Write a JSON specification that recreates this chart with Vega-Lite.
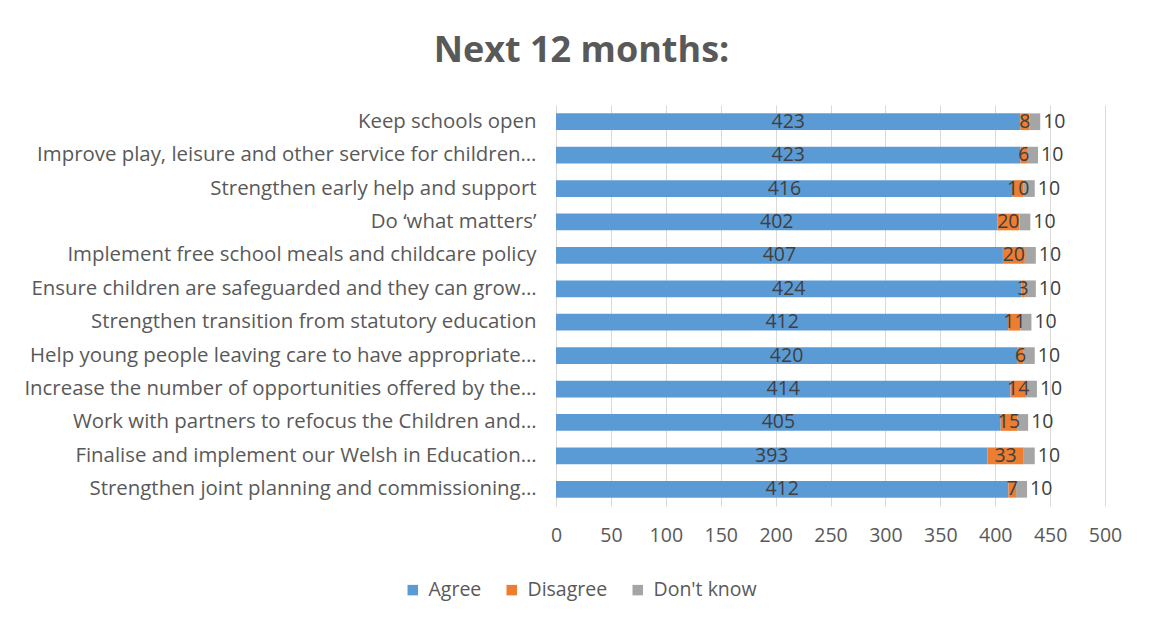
{
  "$schema": "https://vega.github.io/schema/vega-lite/v6.json",
  "autosize": "none",
  "width": 549,
  "height": 401,
  "padding": {"left": 556, "top": 105, "right": 52, "bottom": 124},
  "background": "white",
  "title": {
    "text": "Next 12 months:",
    "fontSize": 36,
    "fontWeight": "bold",
    "color": "#595959",
    "font": "Open Sans",
    "anchor": "middle",
    "dx": -249,
    "offset": 35
  },
  "config": {
    "font": "Open Sans",
    "view": {"stroke": null}
  },
  "data": {
    "values": [
      {"item": "Keep schools open", "response": "Agree", "value": 423, "ord": 1},
      {"item": "Keep schools open", "response": "Disagree", "value": 8, "ord": 2},
      {"item": "Keep schools open", "response": "Don't know", "value": 10, "ord": 3},
      {"item": "Improve play, leisure and other service for children…", "response": "Agree", "value": 423, "ord": 1},
      {"item": "Improve play, leisure and other service for children…", "response": "Disagree", "value": 6, "ord": 2},
      {"item": "Improve play, leisure and other service for children…", "response": "Don't know", "value": 10, "ord": 3},
      {"item": "Strengthen early help and support", "response": "Agree", "value": 416, "ord": 1},
      {"item": "Strengthen early help and support", "response": "Disagree", "value": 10, "ord": 2},
      {"item": "Strengthen early help and support", "response": "Don't know", "value": 10, "ord": 3},
      {"item": "Do ‘what matters’", "response": "Agree", "value": 402, "ord": 1},
      {"item": "Do ‘what matters’", "response": "Disagree", "value": 20, "ord": 2},
      {"item": "Do ‘what matters’", "response": "Don't know", "value": 10, "ord": 3},
      {"item": "Implement free school meals and childcare policy", "response": "Agree", "value": 407, "ord": 1},
      {"item": "Implement free school meals and childcare policy", "response": "Disagree", "value": 20, "ord": 2},
      {"item": "Implement free school meals and childcare policy", "response": "Don't know", "value": 10, "ord": 3},
      {"item": "Ensure children are safeguarded and they can grow…", "response": "Agree", "value": 424, "ord": 1},
      {"item": "Ensure children are safeguarded and they can grow…", "response": "Disagree", "value": 3, "ord": 2},
      {"item": "Ensure children are safeguarded and they can grow…", "response": "Don't know", "value": 10, "ord": 3},
      {"item": "Strengthen transition from statutory education", "response": "Agree", "value": 412, "ord": 1},
      {"item": "Strengthen transition from statutory education", "response": "Disagree", "value": 11, "ord": 2},
      {"item": "Strengthen transition from statutory education", "response": "Don't know", "value": 10, "ord": 3},
      {"item": "Help young people leaving care to have appropriate…", "response": "Agree", "value": 420, "ord": 1},
      {"item": "Help young people leaving care to have appropriate…", "response": "Disagree", "value": 6, "ord": 2},
      {"item": "Help young people leaving care to have appropriate…", "response": "Don't know", "value": 10, "ord": 3},
      {"item": "Increase the number of opportunities offered by the…", "response": "Agree", "value": 414, "ord": 1},
      {"item": "Increase the number of opportunities offered by the…", "response": "Disagree", "value": 14, "ord": 2},
      {"item": "Increase the number of opportunities offered by the…", "response": "Don't know", "value": 10, "ord": 3},
      {"item": "Work with partners to refocus the Children and…", "response": "Agree", "value": 405, "ord": 1},
      {"item": "Work with partners to refocus the Children and…", "response": "Disagree", "value": 15, "ord": 2},
      {"item": "Work with partners to refocus the Children and…", "response": "Don't know", "value": 10, "ord": 3},
      {"item": "Finalise and implement our Welsh in Education…", "response": "Agree", "value": 393, "ord": 1},
      {"item": "Finalise and implement our Welsh in Education…", "response": "Disagree", "value": 33, "ord": 2},
      {"item": "Finalise and implement our Welsh in Education…", "response": "Don't know", "value": 10, "ord": 3},
      {"item": "Strengthen joint planning and commissioning…", "response": "Agree", "value": 412, "ord": 1},
      {"item": "Strengthen joint planning and commissioning…", "response": "Disagree", "value": 7, "ord": 2},
      {"item": "Strengthen joint planning and commissioning…", "response": "Don't know", "value": 10, "ord": 3}
    ]
  },
  "transform": [
    {"stack": "value", "groupby": ["item"], "sort": [{"field": "ord", "order": "ascending"}], "as": ["x0", "x1"]},
    {"calculate": "(datum.x0 + datum.x1) / 2", "as": "xmid"}
  ],
  "encoding": {
    "y": {
      "field": "item",
      "type": "nominal",
      "sort": null,
      "scale": {"paddingInner": 0.5, "paddingOuter": 0.25},
      "axis": {
        "title": null,
        "domain": false,
        "ticks": false,
        "labelFontSize": 20.4,
        "labelColor": "#595959",
        "labelPadding": 20,
        "labelLimit": 600
      }
    }
  },
  "layer": [
    {
      "mark": {"type": "bar"},
      "encoding": {
        "x": {
          "field": "x0",
          "type": "quantitative",
          "scale": {"domain": [0, 500]},
          "axis": {
            "title": null,
            "values": [0, 50, 100, 150, 200, 250, 300, 350, 400, 450, 500],
            "domain": false,
            "ticks": false,
            "grid": true,
            "gridColor": "#D9D9D9",
            "gridWidth": 1,
            "labelFlush": false,
            "labelFontSize": 19.5,
            "labelColor": "#595959",
            "labelPadding": 20
          }
        },
        "x2": {"field": "x1"},
        "color": {
          "field": "response",
          "type": "nominal",
          "scale": {"domain": ["Agree", "Disagree", "Don't know"], "range": ["#5B9BD5", "#ED7D31", "#A5A5A5"]},
          "legend": {
            "title": null,
            "orient": "none",
            "direction": "horizontal",
            "legendX": -153,
            "legendY": 475,
            "symbolType": "square",
            "symbolSize": 110,
            "symbolOpacity": 1,
            "labelFontSize": 19.5,
            "labelColor": "#595959",
            "labelOffset": 6,
            "columnPadding": 20
          }
        }
      }
    },
    {
      "transform": [{"filter": "datum.response !== \"Don't know\""}],
      "mark": {"type": "text", "fontSize": 19.5, "color": "#404040", "baseline": "middle", "align": "center"},
      "encoding": {
        "x": {"field": "xmid", "type": "quantitative"},
        "text": {"field": "value", "type": "quantitative"}
      }
    },
    {
      "transform": [{"filter": "datum.response === \"Don't know\""}],
      "mark": {"type": "text", "fontSize": 19.5, "color": "#404040", "baseline": "middle", "align": "left", "dx": 3},
      "encoding": {
        "x": {"field": "x1", "type": "quantitative"},
        "text": {"field": "value", "type": "quantitative"}
      }
    }
  ]
}
